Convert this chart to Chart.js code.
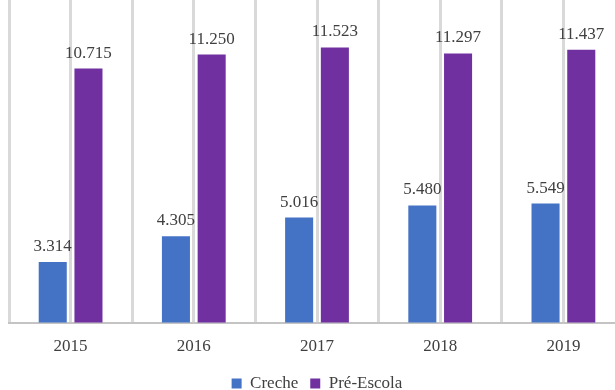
<!DOCTYPE html>
<html>
<head>
<meta charset="utf-8">
<script src="https://cdn.jsdelivr.net/npm/chart.js@4/dist/chart.umd.min.js"></script>
<style>
  html, body { margin: 0; padding: 0; background: #fff; overflow: hidden; }
  #wrap { width: 632px; height: 404px; }
</style>
</head>
<body>
<div id="wrap"><canvas id="matriculas"></canvas></div>
<script>
const years = ["2015", "2016", "2017", "2018", "2019"];
const creche = [3314, 4305, 5016, 5480, 5549];
const preEscola = [10715, 11250, 11523, 11297, 11437];

const FONT = "'Liberation Serif', 'Times New Roman', serif";
const TEXT = "#404040";
const GRID = "#d9d9d9";

Chart.defaults.font.family = FONT;
Chart.defaults.color = TEXT;

// 3314 -> "3.314"
const fmt = n => String(n).replace(/\B(?=(\d{3})+(?!\d))/g, ".");

const valueLabels = {
  id: "valueLabels",
  afterDatasetsDraw(chart) {
    const ctx = chart.ctx;
    ctx.save();
    ctx.font = "17px " + FONT;
    ctx.fillStyle = TEXT;
    ctx.textAlign = "center";
    ctx.textBaseline = "alphabetic";
    chart.data.datasets.forEach((ds, i) => {
      chart.getDatasetMeta(i).data.forEach((bar, j) => {
        ctx.fillText(fmt(ds.data[j]), bar.x, bar.y - 11);
      });
    });
    ctx.restore();
  }
};

new Chart(document.getElementById("matriculas"), {
  type: "bar",
  data: {
    labels: years,
    datasets: [
      { label: "Creche", data: creche, backgroundColor: "#4472C4" },
      { label: "Pré-Escola", data: preEscola, backgroundColor: "#7030A0" }
    ]
  },
  options: {
    responsive: true,
    maintainAspectRatio: false,
    animation: false,
    categoryPercentage: 0.58,
    barPercentage: 0.785,
    layout: { padding: { left: 9, right: 7, top: 0, bottom: 2 } },
    plugins: {
      legend: {
        position: "bottom",
        labels: {
          boxWidth: 10,
          boxHeight: 10,
          padding: 12,
          color: TEXT,
          font: { family: FONT, size: 17 }
        }
      },
      tooltip: { enabled: false }
    },
    scales: {
      x: {
        afterFit: s => { s.height = 40.5; },
        grid: { offset: true, color: GRID, lineWidth: 3, drawTicks: false },
        border: { color: "#c4c4c4", width: 2 },
        ticks: {
          color: TEXT,
          font: { family: FONT, size: 17 },
          padding: 14
        }
      },
      xMid: {
        type: "category",
        labels: years,
        position: "top",
        offset: true,
        grid: { offset: false, color: GRID, lineWidth: 3, drawTicks: false },
        border: { display: false },
        ticks: { display: false }
      },
      y: {
        display: false,
        min: 1000,
        max: 13340
      }
    }
  },
  plugins: [valueLabels]
});
</script>
</body>
</html>
